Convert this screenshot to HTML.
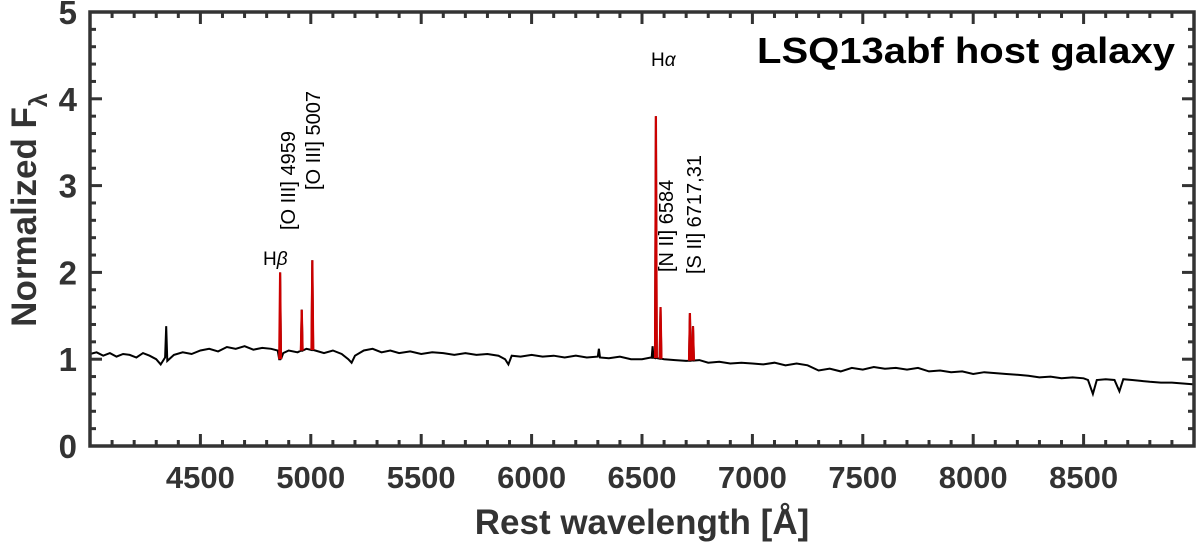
<!DOCTYPE html>
<html><head><meta charset="utf-8"><style>
html,body{margin:0;padding:0;background:#fff;}
svg{display:block;font-family:"Liberation Sans",sans-serif;}
</style></head><body>
<svg id="chart" width="1200" height="542" xmlns="http://www.w3.org/2000/svg">
<g id="plot"></g>
<g id="axes"></g>
<text x="1175" y="63" text-anchor="end" font-size="36" font-weight="bold" fill="#000" textLength="418" lengthAdjust="spacingAndGlyphs">LSQ13abf host galaxy</text>
<text x="642" y="534" text-anchor="middle" font-size="35" font-weight="bold" fill="#333">Rest wavelength [Å]</text>
<text transform="translate(36,210) rotate(-90)" text-anchor="middle" font-size="35" font-weight="bold" fill="#333">Normalized F<tspan font-size="25" dy="11">λ</tspan></text>
<text x="263" y="265" font-size="19" fill="#000">H<tspan font-style="italic">β</tspan></text>
<text x="651" y="66" font-size="19" fill="#000">H<tspan font-style="italic">α</tspan></text>
<text transform="translate(295,230) rotate(-90)" font-size="20" fill="#000">[O III] 4959</text>
<text transform="translate(320,190) rotate(-90)" font-size="20" fill="#000">[O III] 5007</text>
<text transform="translate(673,272) rotate(-90)" font-size="20" fill="#000">[N II] 6584</text>
<text transform="translate(701,274) rotate(-90)" font-size="20" fill="#000">[S II] 6717,31</text>
</svg>
<script>
const contWave=[4000,4030,4060,4090,4120,4150,4180,4210,4240,4270,4300,4320,4340,4345,4350,4380,4420,4460,4500,4540,4580,4620,4660,4700,4740,4780,4820,4850,4861,4875,4900,4940,4980,5020,5060,5100,5140,5170,5185,5200,5240,5280,5320,5360,5400,5450,5500,5550,5600,5650,5700,5750,5800,5850,5880,5895,5910,5950,6000,6050,6100,6150,6200,6250,6300,6305,6310,6350,6400,6450,6500,6540,6600,6650,6700,6760,6800,6850,6900,6950,7000,7050,7100,7150,7200,7250,7300,7350,7400,7450,7500,7550,7600,7650,7700,7750,7800,7850,7900,7950,8000,8050,8100,8150,8200,8250,8300,8350,8400,8450,8500,8520,8542,8560,8600,8640,8662,8680,8720,8760,8800,8850,8900,8950,9000];
const contFlux=[1.06,1.08,1.04,1.07,1.03,1.06,1.05,1.02,1.07,1.04,1.0,0.94,1.02,1.38,0.98,1.05,1.08,1.06,1.1,1.12,1.09,1.14,1.12,1.15,1.11,1.13,1.12,1.1,1.0,1.07,1.1,1.08,1.12,1.1,1.07,1.1,1.06,1.0,0.96,1.04,1.1,1.12,1.08,1.1,1.07,1.09,1.06,1.08,1.07,1.05,1.07,1.05,1.06,1.04,1.0,0.94,1.04,1.03,1.05,1.03,1.04,1.02,1.04,1.02,1.03,1.12,1.02,1.01,1.03,1.0,1.0,1.02,1.0,0.99,0.98,0.99,0.96,0.97,0.95,0.96,0.95,0.94,0.96,0.93,0.95,0.93,0.87,0.89,0.86,0.9,0.88,0.91,0.89,0.9,0.88,0.9,0.86,0.87,0.85,0.86,0.83,0.85,0.84,0.83,0.82,0.81,0.79,0.8,0.78,0.79,0.78,0.76,0.6,0.76,0.77,0.76,0.63,0.77,0.76,0.75,0.74,0.73,0.73,0.72,0.71];
const lineWave=[4861,4959,5007,6548,6563,6584,6717,6731];
const linePeak=[2.0,1.57,2.14,1.15,3.8,1.6,1.53,1.38];
const lineRed=[true,true,true,false,true,true,true,true];
const xTicks=[4500,5000,5500,6000,6500,7000,7500,8000,8500];
const yTicks=[0,1,2,3,4,5];

const X0=90,X1=1194,Y0=446,Y1=12,WMIN=4000,WMAX=9000,FMIN=0,FMAX=5;
const sx=w=>X0+(w-WMIN)/(WMAX-WMIN)*(X1-X0);
const sy=f=>Y0-(f-FMIN)/(FMAX-FMIN)*(Y0-Y1);
const NS="http://www.w3.org/2000/svg";
const plot=document.getElementById('plot'),axes=document.getElementById('axes');
function mk(tag,attrs,parent){const e=document.createElementNS(NS,tag);for(const k in attrs)e.setAttribute(k,attrs[k]);parent.appendChild(e);return e;}
function cont(w){for(let i=0;i<contWave.length-1;i++){if(w>=contWave[i]&&w<=contWave[i+1]){const t=(w-contWave[i])/(contWave[i+1]-contWave[i]);return contFlux[i]+t*(contFlux[i+1]-contFlux[i]);}}return contFlux[contFlux.length-1];}
let all=contWave.map(w=>({w,f:cont(w)}));
lineWave.forEach((c,i)=>{const b=cont(c);all.push({w:c-4,f:b});all.push({w:c,f:linePeak[i]});all.push({w:c+4,f:b});});
all.sort((a,b)=>a.w-b.w);
let d=all.map((p,i)=>(i?'L':'M')+sx(p.w).toFixed(1)+','+sy(p.f).toFixed(1)).join(' ');
const sp=mk('path',{d:d,fill:'none',stroke:'#000','stroke-width':2},plot);


lineWave.forEach((c,i)=>{if(!lineRed[i])return;const b=cont(c);
 const p=mk('path',{d:`M${sx(c-4)},${sy(b)} L${sx(c)},${sy(linePeak[i])} L${sx(c+4)},${sy(b)}`,fill:'none',stroke:'#cc0000','stroke-width':2.2},plot);
 
 });
const fr=mk('rect',{x:X0,y:Y1,width:X1-X0,height:Y0-Y1,fill:'none',stroke:'#333','stroke-width':3.5},axes);


for(let w=4100;w<WMAX;w+=100){const maj=w%500===0,L=maj?12:6,x=sx(w);
 mk('line',{x1:x,x2:x,y1:Y0,y2:Y0-L,stroke:'#333','stroke-width':3},axes);
 mk('line',{x1:x,x2:x,y1:Y1,y2:Y1+L,stroke:'#333','stroke-width':3},axes);}
xTicks.forEach(w=>{const t=mk('text',{x:sx(w),y:Y0+42,'text-anchor':'middle','font-size':31,'font-weight':'bold',fill:'#333'},axes);t.textContent=w;
 
 });
for(let f=0.2;f<FMAX;f+=0.2){const fr2=Math.round(f*10)/10,maj=Math.abs(fr2-Math.round(fr2))<1e-6,L=maj?12:6,y=sy(fr2);
 mk('line',{x1:X0,x2:X0+L,y1:y,y2:y,stroke:'#333','stroke-width':3},axes);
 mk('line',{x1:X1,x2:X1-L,y1:y,y2:y,stroke:'#333','stroke-width':3},axes);}
yTicks.forEach(f=>{const t=mk('text',{x:X0-13,y:sy(f)+12,'text-anchor':'end','font-size':33,'font-weight':'bold',fill:'#333'},axes);t.textContent=f;
 
 });
</script>
</body></html>
